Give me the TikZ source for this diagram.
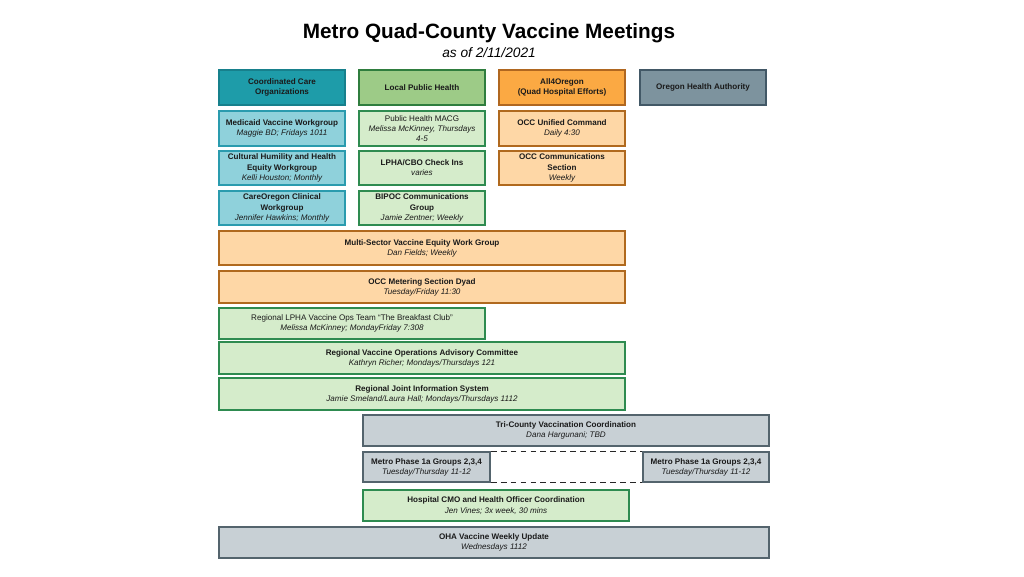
\documentclass[tikz,border=0pt]{standalone}
\usepackage{fontspec}
\setmainfont{Liberation Sans}
\begin{document}
\begin{tikzpicture}[x=0.03cm,y=-0.03cm]
\definecolor{ccoHf}{HTML}{1E9CA9}\definecolor{ccoHd}{HTML}{17808C}
\definecolor{ccoLf}{HTML}{8FD1DB}\definecolor{ccoLd}{HTML}{2A9BAE}
\definecolor{lphHf}{HTML}{9DCB87}\definecolor{lphHd}{HTML}{2F7D3E}
\definecolor{lphLf}{HTML}{D5ECCB}\definecolor{lphLd}{HTML}{2E8B50}
\definecolor{a4oHf}{HTML}{FBA943}\definecolor{a4oHd}{HTML}{B06720}
\definecolor{a4oLf}{HTML}{FED7A6}\definecolor{a4oLd}{HTML}{B0691E}
\definecolor{ohaHf}{HTML}{7D939E}\definecolor{ohaHd}{HTML}{425866}
\definecolor{ohaLf}{HTML}{C8D0D5}\definecolor{ohaLd}{HTML}{54646D}
\definecolor{txt}{HTML}{1A1A1A}
\tikzset{
  box/.style={draw, line width=1.2pt, inner sep=0pt, align=center, text=txt,
    font=\fontsize{6.9}{8.7}\selectfont\bfseries},
  ccoH/.style={box, fill=ccoHf, draw=ccoHd},
  ccoL/.style={box, fill=ccoLf, draw=ccoLd},
  lphH/.style={box, fill=lphHf, draw=lphHd},
  lphL/.style={box, fill=lphLf, draw=lphLd},
  a4oH/.style={box, fill=a4oHf, draw=a4oHd},
  a4oL/.style={box, fill=a4oLf, draw=a4oLd},
  ohaH/.style={box, fill=ohaHf, draw=ohaHd},
  ohaL/.style={box, fill=ohaLf, draw=ohaLd},
  dashline/.style={draw=black!85, line width=1pt, dash pattern=on 5pt off 3.5pt}
}
\newcommand{\mybx}[7]{%
  \node[#6, minimum width={(#4-#2)*0.03cm}, minimum height={(#5-#3)*0.03cm}]
    (#1) at ({(#2+#4)/2},{(#3+#5)/2}) {#7};}
\newcommand{\sub}[1]{{\mdseries\itshape #1}}
\fill[white] (0,0) rectangle (1024,576);
\useasboundingbox (0,0) rectangle (1024,576);
\node[font=\fontsize{17.7}{20}\selectfont\bfseries, text=black] (title) at (489,33) {Metro Quad-County Vaccine Meetings};
\node[font=\fontsize{11.7}{13}\selectfont\itshape, text=black] (date) at (489,52.5) {as of 2/11/2021};
% headers
\mybx{cco}{219}{70}{345}{105}{ccoH}{Coordinated Care\\Organizations}
\mybx{lph}{359}{70}{485}{105}{lphH}{Local Public Health}
\mybx{a4o}{499}{70}{625}{105}{a4oH}{All4Oregon\\(Quad Hospital Efforts)}
\mybx{oha}{640}{70}{766}{105}{ohaH}{Oregon Health Authority}
% column rows
\mybx{mvw}{219}{111}{345}{146}{ccoL}{Medicaid Vaccine Workgroup\\\sub{Maggie BD; Fridays 1011}}
\mybx{chw}{219}{151}{345}{185}{ccoL}{Cultural Humility and Health\\Equity Workgroup\\\sub{Kelli Houston; Monthly}}
\mybx{cow}{219}{191}{345}{225}{ccoL}{CareOregon Clinical\\Workgroup\\\sub{Jennifer Hawkins; Monthly}}
\mybx{mac}{359}{111}{485}{146}{lphL}{\mdseries Public Health MACG\\\sub{Melissa McKinney, Thursdays}\\\sub{4-5}}
\mybx{cbo}{359}{151}{485}{185}{lphL}{LPHA/CBO Check Ins\\\sub{varies}}
\mybx{bip}{359}{191}{485}{225}{lphL}{BIPOC Communications\\Group\\\sub{Jamie Zentner; Weekly}}
\mybx{ouc}{499}{111}{625}{146}{a4oL}{OCC Unified Command\\\sub{Daily 4:30}}
\mybx{ocs}{499}{151}{625}{185}{a4oL}{OCC Communications\\Section\\\sub{Weekly}}
% wide rows
\mybx{mse}{219}{231}{625}{265}{a4oL}{Multi-Sector Vaccine Equity Work Group\\\sub{Dan Fields; Weekly}}
\mybx{msd}{219}{271}{625}{303}{a4oL}{OCC Metering Section Dyad\\\sub{Tuesday/Friday 11:30}}
\mybx{bkc}{219}{308}{485}{339}{lphL}{\mdseries Regional LPHA Vaccine Ops Team “The Breakfast Club”\\\sub{Melissa McKinney; MondayFriday 7:308}}
\mybx{rvo}{219}{342}{625}{374}{lphL}{Regional Vaccine Operations Advisory Committee\\\sub{Kathryn Richer; Mondays/Thursdays 121}}
\mybx{jis}{219}{378}{625}{410}{lphL}{Regional Joint Information System\\\sub{Jamie Smeland/Laura Hall; Mondays/Thursdays 1112}}
\mybx{tcv}{363}{415}{769}{446}{ohaL}{Tri-County Vaccination Coordination\\\sub{Dana Hargunani; TBD}}
\mybx{mpl}{363}{452}{490}{482}{ohaL}{Metro Phase 1a Groups 2,3,4\\\sub{Tuesday/Thursday 11-12}}
\mybx{mpr}{643}{452}{769}{482}{ohaL}{Metro Phase 1a Groups 2,3,4\\\sub{Tuesday/Thursday 11-12}}
\mybx{cmo}{363}{490}{629}{521}{lphL}{Hospital CMO and Health Officer Coordination\\\sub{Jen Vines; 3x week, 30 mins}}
\mybx{owu}{219}{527}{769}{558}{ohaL}{OHA Vaccine Weekly Update\\\sub{Wednesdays 1112}}
% dashed connectors
\draw[dashline] (mpl.north east) -- (mpr.north west);
\draw[dashline] (mpl.south east) -- (mpr.south west);
\end{tikzpicture}
\end{document}
